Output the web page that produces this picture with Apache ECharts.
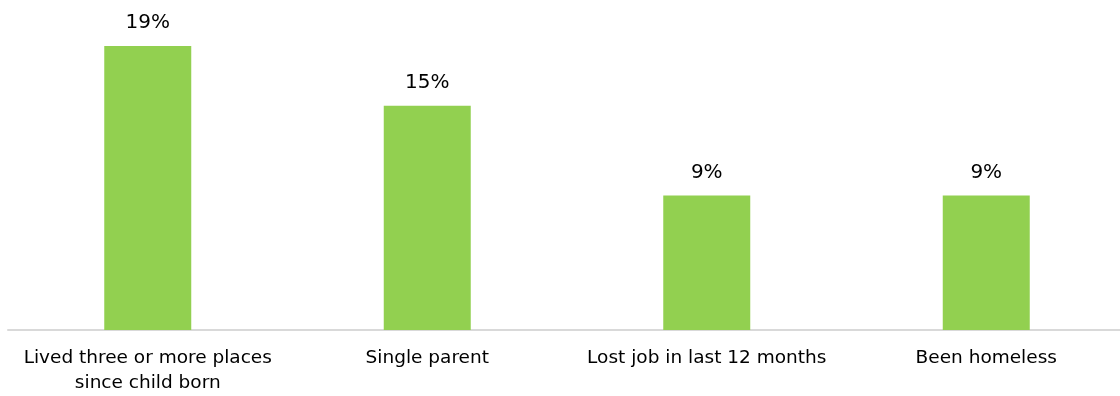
<!DOCTYPE html>
<html>
<head>
<meta charset="utf-8">
<script src="https://cdn.jsdelivr.net/npm/echarts@6/dist/echarts.min.js"></script>
<style>
  html, body { margin: 0; padding: 0; background: #fff; }
  #chart { width: 1120px; height: 396px; }
</style>
</head>
<body>
<div id="chart"></div>
<script>
// Share of families reporting each circumstance (%)
const categories = [
  'Lived three or more places\nsince child born',
  'Single parent',
  'Lost job in last 12 months',
  'Been homeless'
];
const values = [19, 15, 9, 9];

const FONT = '"DejaVu Sans", sans-serif';

const chart = echarts.init(document.getElementById('chart'), null, { renderer: 'canvas' });
chart.setOption({
  animation: false,
  grid: {
    left: 8, top: 31, width: 1118, height: 299,
    containLabel: false,
    outerBoundsMode: 'none'
  },
  xAxis: {
    type: 'category',
    data: categories,
    axisLine: { show: true, lineStyle: { color: '#d9d9d9', width: 2 } },
    axisTick: { show: false },
    axisLabel: {
      interval: 0,
      color: '#000',
      fontFamily: FONT,
      fontSize: 18.5,
      lineHeight: 25,
      margin: 16
    }
  },
  yAxis: {
    type: 'value',
    min: 0,
    max: 20,
    show: false,
    splitLine: { show: false }
  },
  series: [{
    type: 'bar',
    data: values,
    barWidth: 87,
    itemStyle: { color: '#92d050' },
    label: {
      show: true,
      position: 'top',
      distance: 13,
      formatter: '{c}%',
      color: '#000',
      fontFamily: FONT,
      fontSize: 20
    }
  }]
});
</script>
</body>
</html>
